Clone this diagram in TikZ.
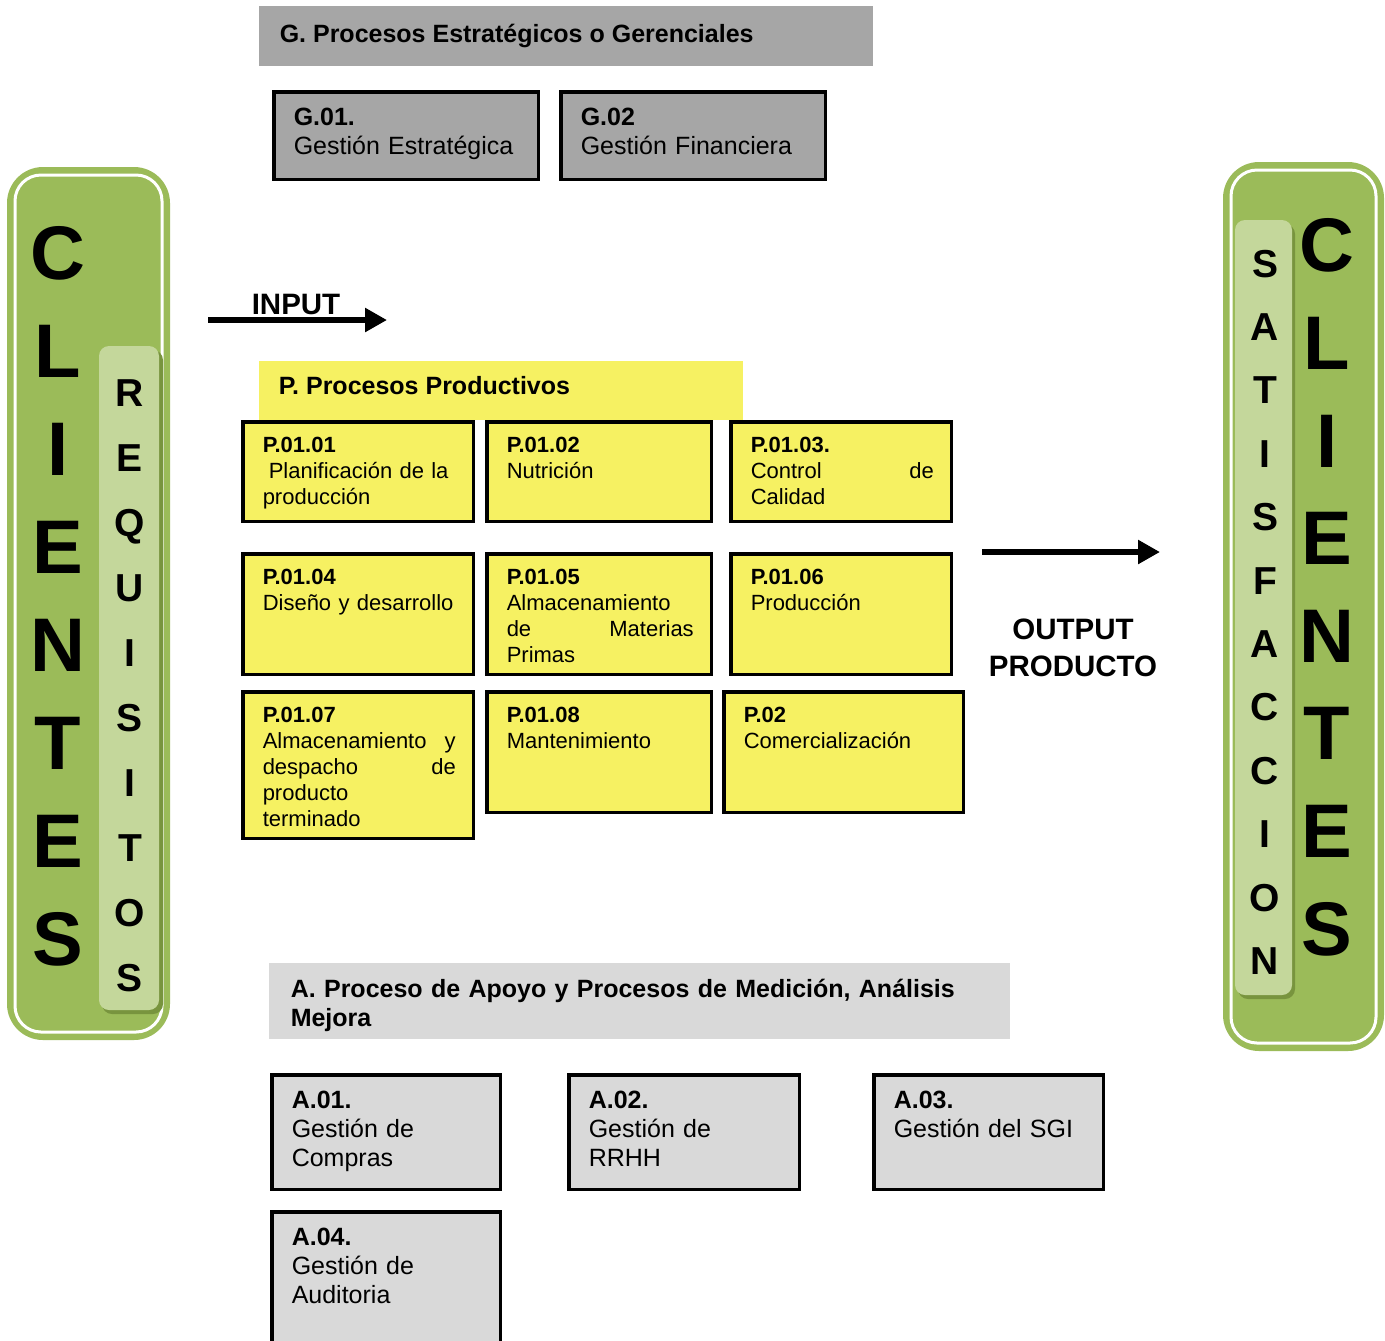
\documentclass[tikz,border=0pt]{standalone}
\usepackage{fontspec}
\setmainfont{Liberation Sans}
\usetikzlibrary{arrows.meta,positioning}

\definecolor{verde}{RGB}{155,187,89}
\definecolor{verdeclaro}{RGB}{196,215,155}
\definecolor{verdeoscuro}{RGB}{120,148,62}
\definecolor{amarillo}{RGB}{246,241,98}
\definecolor{grisG}{RGB}{166,166,166}
\definecolor{grisA}{RGB}{217,217,217}

\tikzset{every picture/.style={line width=0.75pt}}
\tikzset{
  caja/.style={draw=black, line width=1.75pt, anchor=north west, inner sep=0pt},
  gbox/.style={caja, fill=grisG},
  abox/.style={caja, fill=grisA},
  ybox/.style={caja, fill=amarillo},
  gbox text/.style={anchor=base west, inner sep=0pt, align=left, xshift=10.5pt, yshift=-17.5pt,
    font=\fontsize{12.5}{14.5}\selectfont},
  abox text/.style={gbox text},
  ybox text/.style={anchor=base west, inner sep=0pt, align=left, xshift=10.5pt, yshift=-16pt,
    font=\fontsize{11}{13}\selectfont},
  titulo/.style={anchor=base west, inner sep=0pt, font=\fontsize{12.5}{14.5}\selectfont\bfseries},
  rotulo/.style={inner sep=0pt, font=\fontsize{14.75}{18.5}\selectfont\bfseries},
  flecha/.style={line width=3pt, -{Triangle[length=11pt,width=11.5pt]}},
  panel/.style={fill=verde, rounded corners=18pt},
  borde/.style={draw=white, line width=1.5pt, rounded corners=13pt},
  franja/.style={fill=verdeclaro, rounded corners=5pt},
  sombra/.style={fill=verdeoscuro, rounded corners=5pt},
  letra/.style={inner sep=0pt, font=\fontsize{38}{38}\selectfont\bfseries, text height=27.2pt, text depth=0pt},
  letrita/.style={inner sep=0pt, font=\fontsize{19.5}{20}\selectfont\bfseries, text height=14pt, text depth=0pt}
}

% caja de proceso: nombre, estilo, x, y, ancho, alto, texto
\newcommand\proceso[7]{%
  \pgfmathsetmacro\anchoC{(#5-3.5)*0.5}%
  \pgfmathsetmacro\altoC{(#6-3.5)*0.5}%
  \pgfmathsetmacro\anchoT{(#5-41)*0.5}%
  \node[#2, minimum width=\anchoC pt, minimum height=\altoC pt] (#1) at (#3,#4) {};
  \node[#2 text, text width=\anchoT pt] (#1-t) at (#1.north west) {#7};
}

\begin{document}
\begin{tikzpicture}[x=0.5pt,y=-0.5pt]
  \useasboundingbox (0,0) rectangle (1385,1340);
  \clip (0,0) rectangle (1385,1340);

  % clientes / requisitos
  \fill[panel] (7,167) rectangle (170,1040);
  \draw[borde] (15,175) rectangle (162,1032);
  \fill[sombra] (102,350) rectangle (163,1014);
  \fill[franja] (99,346) rectangle (159,1010);
  \foreach \l [count=\i] in {C,L,I,E,N,T,E,S}
    \node[letra] (cliI\i) at (58,154+98*\i) {\l};
  \foreach \l [count=\i] in {R,E,Q,U,I,S,I,T,O,S}
    \node[letrita] (req\i) at (130,327+65*\i) {\l};

  % satisfaccion / clientes
  \fill[panel] (1223,162) rectangle (1384,1051);
  \draw[borde] (1231,170) rectangle (1376,1043);
  \fill[sombra] (1238,224) rectangle (1295,999);
  \fill[franja] (1235,220) rectangle (1292,995);
  \foreach \l [count=\i] in {S,A,T,I,S,F,A,C,C,I,O,N}
    \node[letrita] (sat\i) at (1265,199.6+63.4*\i) {\l};
  \foreach \l [count=\i] in {C,L,I,E,N,T,E,S}
    \node[letra] (cliD\i) at (1327,147+97.6*\i) {\l};

  % procesos gerenciales
  \fill[grisG] (259,6) rectangle (873,66);
  \node[titulo] (gtit) at (279,42) {G. Procesos Estratégicos o Gerenciales};
  \proceso{g01}{gbox}{272}{90}{268}{91}{\textbf{G.01.}\\Gestión Estratégica}
  \proceso{g02}{gbox}{559}{90}{268}{91}{\textbf{G.02}\\Gestión Financiera}

  % entrada
  \coordinate (ent-ini) at (208,320);
  \coordinate (ent-fin) at (387,320);
  \draw[flecha] (ent-ini) -- (ent-fin);
  \node[rotulo, anchor=base west] (input) at (251,314) {INPUT};

  % procesos productivos
  \fill[amarillo] (259,361) rectangle (743,420);
  \node[titulo] (ptit) at (278,394) {P. Procesos Productivos};
  \proceso{p0101}{ybox}{241}{420}{234}{103}{\textbf{P.01.01}\\\hspace*{3pt}Planificación de la\\producción}
  \proceso{p0102}{ybox}{485}{420}{228}{103}{\textbf{P.01.02}\\Nutrición}
  \proceso{p0103}{ybox}{729}{420}{224}{103}{\textbf{P.01.03.}\\Control\hfill de\\Calidad}
  \proceso{p0104}{ybox}{241}{552}{234}{124}{\textbf{P.01.04}\\Diseño y desarrollo}
  \proceso{p0105}{ybox}{485}{552}{228}{124}{\textbf{P.01.05}\\Almacenamiento\\de\hfill Materias\\Primas}
  \proceso{p0106}{ybox}{729}{552}{224}{124}{\textbf{P.01.06}\\Producción}
  \proceso{p0107}{ybox}{241}{690}{234}{150}{\textbf{P.01.07}\\Almacenamiento\hfill y\\despacho\hfill de\\producto\\terminado}
  \proceso{p0108}{ybox}{485}{690}{228}{124}{\textbf{P.01.08}\\Mantenimiento}
  \proceso{p02}{ybox}{722}{690}{243}{124}{\textbf{P.02}\\Comercialización}

  % salida
  \coordinate (sal-ini) at (982,552);
  \coordinate (sal-fin) at (1160,552);
  \draw[flecha] (sal-ini) -- (sal-fin);
  \node[rotulo, anchor=base, align=center, text width=100pt] (output) at (1073,639) {OUTPUT\\PRODUCTO};

  % apoyo, medicion y mejora
  \fill[grisA] (269,963) rectangle (1010,1039);
  \node[titulo, align=left, text width=370pt] (atit) at (290,997)
    {A. Proceso de Apoyo y Procesos de Medición, Análisis\\Mejora};
  \proceso{a01}{abox}{270}{1073}{232}{118}{\textbf{A.01.}\\Gestión de\\Compras}
  \proceso{a02}{abox}{567}{1073}{234}{118}{\textbf{A.02.}\\Gestión de\\RRHH}
  \proceso{a03}{abox}{872}{1073}{233}{118}{\textbf{A.03.}\\Gestión del SGI}
  \proceso{a04}{abox}{270}{1210}{232}{160}{\textbf{A.04.}\\Gestión de\\Auditoria}
\end{tikzpicture}
\end{document}
